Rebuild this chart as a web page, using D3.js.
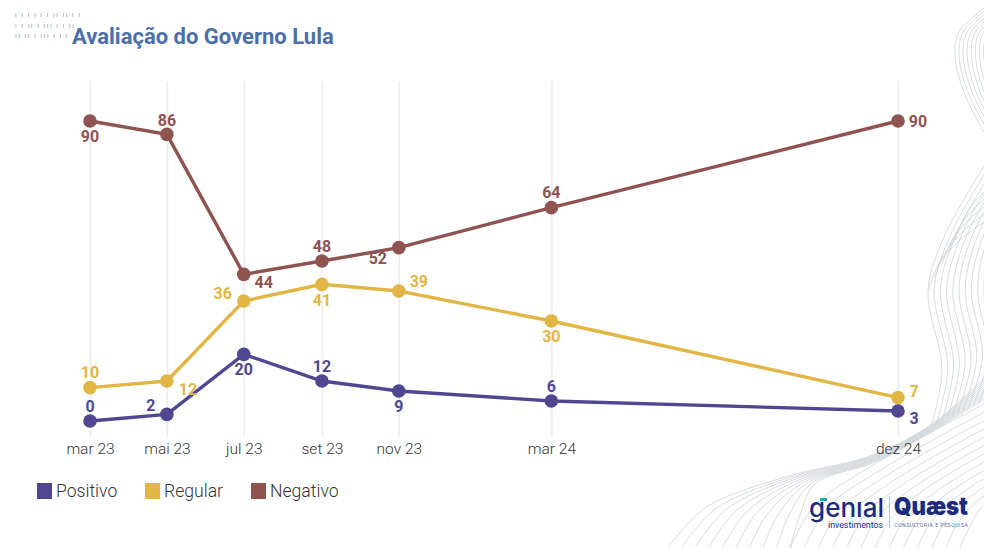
<!DOCTYPE html>
<html>
<head>
<meta charset="utf-8">
<script src="https://cdnjs.cloudflare.com/ajax/libs/d3/7.8.5/d3.min.js"></script>
<style>
  html, body { margin: 0; padding: 0; background: #fff; }
  svg { display: block; font-family: Roboto, sans-serif; }
</style>
</head>
<body>
<div id="chart"></div>
<script>
var months = ['2023-03', '2023-05', '2023-07', '2023-09', '2023-11', '2024-03', '2024-12'];
var month_labels = ['mar 23', 'mai 23', 'jul 23', 'set 23', 'nov 23', 'mar 24', 'dez 24'];

var positivo = [0, 2, 20, 12, 9, 6, 3];
var regular = [10, 12, 36, 41, 39, 30, 7];
var negativo = [90, 86, 44, 48, 52, 64, 90];

var series_names = ['Positivo', 'Regular', 'Negativo'];
var series_values = [positivo, regular, negativo];
var series_colors = ['#4f478f', '#e2b644', '#8f5350'];

// label offset from its point, same order as the series
var label_offsets = [
    [[0, -15], [-16, -9], [0, 15], [0, -15], [0, 15], [0, -15], [16, 7]],
    [[0, -15], [21, 8], [-21, -8], [0, 16], [20, -10], [0, 15], [16, -6]],
    [[0, 15], [0, -14], [20, 8], [0, -15], [-21, 11], [0, -15], [20, 0]]
];

var width = 984, height = 548;

var svg = d3.select('#chart').append('svg')
    .attr('width', width)
    .attr('height', height);

var parse_month = d3.utcParse('%Y-%m');
var dates = months.map(function(m) { return parse_month(m); });

var x = d3.scaleUtc().domain([dates[0], dates[dates.length - 1]]).range([90, 898]);
var y = d3.scaleLinear().domain([0, 90]).range([421, 121]);

// background waves, each family is a bundle between two edge curves
var wave_families = [
    { n: 11, a: [[984, 8], [959, 32], [955, 56], [965, 95], [984, 132]],
             b: [[1030, 8], [1000, 32], [996, 56], [1006, 95], [1030, 132]] },
    { n: 11, a: [[931, 427], [942, 370], [928, 290], [945, 235], [984, 166]],
             b: [[984, 400], [1000, 350], [990, 290], [1000, 235], [1040, 166]] },
    { n: 5, a: [[928, 290], [940, 262], [960, 240], [984, 222]],
            b: [[955, 240], [962, 222], [972, 205], [984, 192]] },
    { n: 10, a: [[668, 548], [705, 508], [785, 477], [870, 456], [932, 424], [984, 378]],
             b: [[790, 548], [800, 515], [815, 484], [875, 462], [934, 430], [984, 400]] },
    { n: 13, a: [[790, 548], [815, 505], [865, 470], [932, 432], [984, 404]],
             b: [[960, 548], [968, 530], [976, 515], [984, 505], [1000, 495]] }
];

var wave_line = d3.line().curve(d3.curveCatmullRom);

wave_families.forEach(function(f) {
    d3.range(f.n).forEach(function(i) {
        var t = i / (f.n - 1);
        var pts = f.a.map(function(p, k) {
            return [p[0] + (f.b[k][0] - p[0]) * t, p[1] + (f.b[k][1] - p[1]) * t];
        });
        svg.append('path')
            .attr('d', wave_line(pts))
            .attr('fill', 'none')
            .attr('stroke', '#c2cbd0')
            .attr('stroke-width', 0.75)
            .attr('opacity', 0.9);
    });
});

// top left small print, not readable in the original
var small_print = ['I  I I I  I I II   II  I I', 'I  I II  I  III I I  II', 'II II I  III I  I I'];
svg.selectAll('text.small')
    .data(small_print)
    .enter()
    .append('text')
    .attr('class', 'small')
    .attr('x', 15)
    .attr('y', function(d, i) { return 17 + i * 10.5; })
    .attr('font-size', 6)
    .attr('letter-spacing', 1.6)
    .attr('fill', '#8a8f96')
    .text(function(d) { return d; });

svg.append('text')
    .attr('x', 72)
    .attr('y', 44)
    .attr('font-size', 22)
    .attr('font-weight', 700)
    .attr('fill', '#4a6fa9')
    .text('Avaliação do Governo Lula');

// axis with the ticks used as the vertical grid
var axis = d3.axisBottom(x)
    .tickValues(dates)
    .tickFormat(function(d, i) { return month_labels[i]; })
    .tickSize(-356)
    .tickPadding(6);

var axis_g = svg.append('g')
    .attr('transform', 'translate(0,437)')
    .call(axis);

axis_g.select('.domain').remove();
axis_g.selectAll('.tick line')
    .attr('stroke', '#ececee')
    .attr('stroke-width', 1.6);
axis_g.selectAll('.tick text')
    .attr('font-family', 'Roboto, sans-serif')
    .attr('font-size', 15.5)
    .attr('font-weight', 300)
    .attr('fill', '#333');

var line = d3.line()
    .x(function(d, i) { return x(dates[i]); })
    .y(function(d) { return y(d); });

// negative first, so that positive ends up on top
[2, 1, 0].forEach(function(s) {
    var g = svg.append('g');

    g.append('path')
        .attr('d', line(series_values[s]))
        .attr('fill', 'none')
        .attr('stroke', series_colors[s])
        .attr('stroke-width', 3.4);

    g.selectAll('circle')
        .data(series_values[s])
        .enter()
        .append('circle')
        .attr('cx', function(d, i) { return x(dates[i]); })
        .attr('cy', function(d) { return y(d); })
        .attr('r', 6.8)
        .attr('fill', series_colors[s]);
});

[2, 1, 0].forEach(function(s) {
    svg.append('g').selectAll('text')
        .data(series_values[s])
        .enter()
        .append('text')
        .attr('x', function(d, i) { return x(dates[i]) + label_offsets[s][i][0]; })
        .attr('y', function(d, i) { return y(d) + label_offsets[s][i][1]; })
        .attr('dy', '0.36em')
        .attr('text-anchor', 'middle')
        .attr('font-size', 16)
        .attr('font-weight', 700)
        .attr('fill', series_colors[s])
        .text(function(d) { return d; });
});

// legend
var legend_x = [37, 145, 251];
var legend = svg.append('g').selectAll('g')
    .data(series_names)
    .enter()
    .append('g')
    .attr('transform', function(d, i) { return 'translate(' + legend_x[i] + ',483)'; });

legend.append('rect')
    .attr('width', 15)
    .attr('height', 16)
    .attr('fill', function(d, i) { return series_colors[i]; });

legend.append('text')
    .attr('x', 19)
    .attr('y', 14)
    .attr('font-size', 17.6)
    .attr('font-weight', 300)
    .attr('fill', '#333')
    .text(function(d) { return d; });

// logos
var logo = svg.append('g');

logo.append('text')
    .attr('x', 809)
    .attr('y', 517)
    .attr('font-family', 'Inter, sans-serif')
    .attr('font-size', 26)
    .attr('font-weight', 500)
    .attr('fill', '#1c2a80')
    .attr('textLength', 75)
    .attr('lengthAdjust', 'spacingAndGlyphs')
    .text('genıal');

logo.append('rect')
    .attr('x', 820)
    .attr('y', 498)
    .attr('width', 7)
    .attr('height', 3)
    .attr('fill', '#2aa5b5');

logo.append('text')
    .attr('x', 828)
    .attr('y', 528)
    .attr('font-size', 8.5)
    .attr('fill', '#1c2a80')
    .attr('textLength', 55)
    .attr('lengthAdjust', 'spacingAndGlyphs')
    .text('investimentos');

logo.append('rect')
    .attr('x', 889)
    .attr('y', 496)
    .attr('width', 1)
    .attr('height', 32)
    .attr('fill', '#a9c6dc');

logo.append('text')
    .attr('x', 894)
    .attr('y', 515)
    .attr('font-family', 'Inter, sans-serif')
    .attr('font-size', 25)
    .attr('font-weight', 900)
    .attr('fill', '#1c2a80')
    .attr('textLength', 74)
    .attr('lengthAdjust', 'spacingAndGlyphs')
    .text('Quæst');

logo.append('text')
    .attr('x', 894)
    .attr('y', 527)
    .attr('font-size', 5.2)
    .attr('fill', '#5a6aa0')
    .attr('textLength', 74)
    .attr('lengthAdjust', 'spacing')
    .text('CONSULTORIA E PESQUISA');
</script>
</body>
</html>
